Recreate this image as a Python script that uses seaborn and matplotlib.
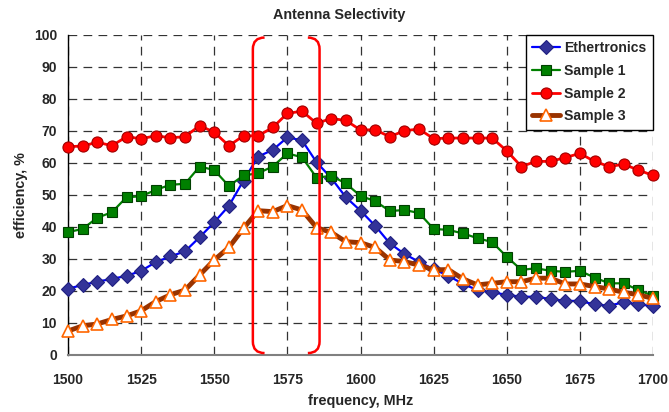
import numpy as np
import pandas as pd
import matplotlib
matplotlib.use("Agg")
import matplotlib.pyplot as plt
import seaborn as sns
from matplotlib.path import Path
from matplotlib.patches import PathPatch

freq = list(range(1500, 1701, 5))

ethertronics = [20.7, 21.9, 22.9, 23.8, 24.7, 26.3, 29.0, 30.8, 32.4, 36.8,
                41.5, 46.6, 54.5, 62.0, 64.1, 68.0, 67.1, 60.2, 55.3, 49.3,
                45.1, 40.4, 34.9, 31.6, 29.1, 26.8, 24.8, 22.2, 20.3, 19.6,
                18.8, 18.2, 18.2, 17.5, 16.9, 16.9, 15.8, 15.4, 16.5, 15.8, 15.3]
sample1 = [38.4, 39.4, 42.9, 44.6, 49.3, 49.6, 51.6, 53.2, 53.5, 58.9,
           57.8, 52.8, 56.1, 56.8, 58.9, 63.0, 61.8, 55.4, 56.0, 53.6,
           49.7, 48.1, 45.0, 45.3, 44.4, 39.4, 39.1, 38.0, 36.5, 35.3,
           30.7, 26.6, 27.1, 26.3, 26.0, 26.3, 24.2, 22.4, 22.4, 20.3, 18.5]
sample2 = [65.1, 65.3, 66.5, 65.4, 68.2, 67.6, 68.5, 67.9, 68.2, 71.7,
           69.6, 65.4, 68.5, 68.5, 71.1, 75.5, 76.2, 72.4, 73.9, 73.3,
           70.3, 70.4, 68.2, 70.1, 70.6, 67.6, 67.8, 67.8, 67.8, 67.8,
           63.8, 58.9, 60.5, 60.5, 61.7, 63.0, 60.5, 58.9, 59.6, 57.8, 56.1]
sample3 = [7.5, 9.1, 9.7, 11.1, 12.2, 13.8, 16.7, 18.8, 20.3, 25.0,
           29.7, 33.6, 39.6, 45.1, 44.8, 46.7, 45.3, 39.8, 38.3, 35.4,
           35.1, 33.6, 29.7, 29.2, 28.1, 26.6, 26.7, 23.8, 21.9, 22.4,
           22.9, 22.9, 24.0, 24.0, 22.2, 22.2, 21.4, 20.6, 19.6, 18.8, 17.7]

series_names = ["Ethertronics", "Sample 1", "Sample 2", "Sample 3"]
x_ticks = [1500, 1525, 1550, 1575, 1600, 1625, 1650, 1675, 1700]
y_ticks = [0, 10, 20, 30, 40, 50, 60, 70, 80, 90, 100]
band = (1563.2, 1586.0)

sns.set_style("white")
plt.rcParams['font.family'] = ['Liberation Sans', 'DejaVu Sans']
plt.rcParams['font.weight'] = 'bold'

fig = plt.figure(figsize=(6.69, 4.12), dpi=100)
ax = fig.add_axes([68/669, 1-355/412, (653-68)/669, (355-35)/412])

styles = [
    dict(color="#0000FF", lw=1.6, marker="D", ms=7, mfc="#333399", mec="#1F1F80", mew=0.8),
    dict(color="#008000", lw=1.6, marker="s", ms=7.5, mfc="#008000", mec="#004000", mew=0.8),
    dict(color="#FF0000", lw=2.0, marker="o", ms=8, mfc="#FF0000", mec="#A00000", mew=0.8),
    dict(color="#993300", lw=3.5, marker="^", ms=8.5, mfc="white", mec="#FF6600", mew=1.2),
]
data = [ethertronics, sample1, sample2, sample3]
for name, vals, st in zip(series_names, data, styles):
    sns.lineplot(x=freq, y=vals, ax=ax, label=name, color=st["color"], linewidth=st["lw"],
                 marker=st["marker"], markersize=st["ms"], markerfacecolor=st["mfc"],
                 markeredgecolor=st["mec"], markeredgewidth=st["mew"], clip_on=False, zorder=3)

ax.set_xlim(1500, 1700)
ax.set_ylim(0, 100)
ax.set_xticks(x_ticks)
ax.set_yticks(y_ticks)
ax.set_xticklabels([str(t) for t in x_ticks], fontsize=10, fontweight='bold')
ax.set_yticklabels([str(t) for t in y_ticks], fontsize=10, fontweight='bold')
ax.tick_params(axis='x', length=0, pad=13)
ax.tick_params(axis='y', length=0, pad=8)
ax.grid(True, color='black', linestyle=(0, (7, 5)), linewidth=0.9, alpha=0.8)
ax.set_axisbelow(True)
for s in ['top', 'right']:
    ax.spines[s].set_visible(False)
ax.spines['left'].set_color('black')
ax.spines['left'].set_linewidth(1.0)
ax.spines['bottom'].set_color('#808080')
ax.spines['bottom'].set_linewidth(1.5)

ax.set_xlabel("frequency, MHz", fontsize=10.4, fontweight='bold', labelpad=5)
ax.set_ylabel("efficiency, %", fontsize=10.4, fontweight='bold', labelpad=4)
fig.text(339/669, 1-15/412, "Antenna Selectivity", ha='center', va='center',
         fontsize=10.4, fontweight='bold')

# band bracket
rx, ry = 4.0, 3.6
top, bot = 99.2, 0.6
l, r = band
verts_l = [(l + rx, top), (l, top), (l, top - ry), (l, bot + ry), (l, bot), (l + rx, bot)]
codes = [Path.MOVETO, Path.CURVE3, Path.CURVE3, Path.LINETO, Path.CURVE3, Path.CURVE3]
verts_r = [(r - rx, top), (r, top), (r, top - ry), (r, bot + ry), (r, bot), (r - rx, bot)]
for v in (verts_l, verts_r):
    ax.add_patch(PathPatch(Path(v, codes), fill=False, edgecolor='#FF0000', lw=1.8, zorder=4))

leg = ax.legend(loc='upper right', bbox_to_anchor=(1.0, 1.0), frameon=True, fancybox=False,
                edgecolor='black', framealpha=1, fontsize=10.1, handlelength=2.0,
                borderpad=0.45, labelspacing=0.62, handletextpad=0.3, borderaxespad=0.0)
leg.get_frame().set_linewidth(1.0)
for t in leg.get_texts():
    t.set_fontweight('bold')

fig.savefig("out.png", dpi=100)
